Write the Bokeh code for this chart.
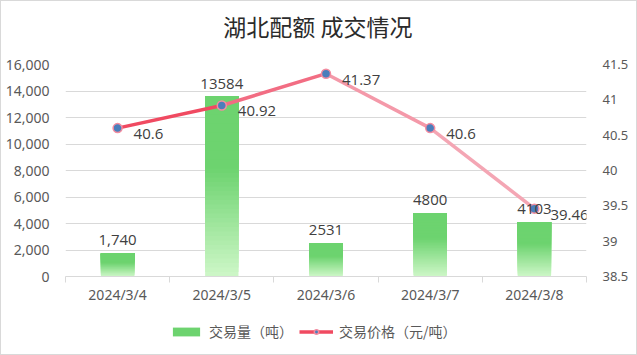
import numpy as np
from bokeh.plotting import figure
from bokeh.layouts import column
from bokeh.models import (Range1d, LinearAxis, FixedTicker, NumeralTickFormatter,
                          Legend, LegendItem, ColumnDataSource, Label)
from bokeh.core.properties import value
from bokeh.embed import file_html
from bokeh.resources import INLINE

# ---- data ----
dates = ["2024/3/4", "2024/3/5", "2024/3/6", "2024/3/7", "2024/3/8"]
volumes = [1740, 13584, 2531, 4800, 4103]
volume_labels = ["1,740", "13584", "2531", "4800", "4103"]
prices = [40.6, 40.92, 41.37, 40.6, 39.46]
price_labels = ["40.6", "40.92", "41.37", "40.6", "39.46"]
left_ticks = [0, 2000, 4000, 6000, 8000, 10000, 12000, 14000, 16000]
right_ticks = [38.5, 39, 39.5, 40, 40.5, 41, 41.5]
title_text = "湖北配额 成交情况"
legend_bar = "交易量（吨）"
legend_line = "交易价格（元/吨）"

xs = list(range(1, len(dates) + 1))
W = 635


def blank_fig(h):
    f = figure(width=W, height=h, x_range=Range1d(0, 1), y_range=Range1d(0, 1),
               output_backend="svg", toolbar_location=None, x_axis_type=None, y_axis_type=None,
               min_border_left=0, min_border_right=0, min_border_top=0, min_border_bottom=0)
    f.grid.grid_line_color = None
    f.outline_line_color = None
    f.background_fill_color = "white"
    f.border_fill_color = "white"
    return f


# ---- title strip ----
tf = blank_fig(50)
tf.add_layout(Label(x=0.4845, y=0.51, text=title_text, text_align="center", text_baseline="middle",
                    text_font="Noto Sans CJK SC", text_font_size="23px", text_color="#2b2b2b"))

# ---- main chart ----
p = figure(width=W, height=255, x_range=Range1d(0.5, len(dates) + 0.5),
           y_range=Range1d(left_ticks[0], left_ticks[-1]),
           output_backend="svg", toolbar_location=None,
           min_border_left=64, min_border_right=50, min_border_top=13, min_border_bottom=30)
p.extra_y_ranges = {"price": Range1d(right_ticks[0], right_ticks[-1])}
p.background_fill_color = "white"
p.border_fill_color = "white"
p.outline_line_color = None

p.xgrid.grid_line_color = None
p.ygrid.grid_line_color = "#d9d9d9"
p.ygrid.ticker = FixedTicker(ticks=left_ticks)

ax = p.xaxis[0]
ax.ticker = FixedTicker(ticks=xs, minor_ticks=[x - 0.5 for x in xs] + [xs[-1] + 0.5])
ax.major_label_overrides = {x: d for x, d in zip(xs, dates)}
ax.axis_line_color = "#d9d9d9"
ax.major_tick_line_color = None
ax.major_tick_out = 0
ax.major_tick_in = 0
ax.minor_tick_line_color = "#d9d9d9"
ax.minor_tick_out = 6
ax.minor_tick_in = 0
ax.major_label_standoff = 2
ax.major_label_text_font = "Noto Sans"
ax.major_label_text_font_size = "14px"
ax.major_label_text_color = "#595959"

ly = p.yaxis[0]
ly.ticker = FixedTicker(ticks=left_ticks)
ly.formatter = NumeralTickFormatter(format="0,0")
ly.axis_line_color = None
ly.major_tick_line_color = None
ly.minor_tick_line_color = None
ly.major_label_standoff = 10
ly.major_label_text_font = "Noto Sans"
ly.major_label_text_font_size = "14px"
ly.major_label_text_color = "#595959"

ry = LinearAxis(y_range_name="price", ticker=FixedTicker(ticks=right_ticks),
                formatter=NumeralTickFormatter(format="0[.]0"))
ry.axis_line_color = None
ry.major_tick_line_color = None
ry.minor_tick_line_color = None
ry.major_label_standoff = 10
ry.major_label_text_font = "Noto Sans"
ry.major_label_text_font_size = "13px"
ry.major_label_text_color = "#595959"
p.add_layout(ry, "right")

# bars with vertical gradient: nested slices, each from its start up to the bar top
green = np.array([109, 211, 111])
light = np.array([206, 247, 200])
n = 40
bx, bb, bt, bc = [], [], [], []
for x, v in zip(xs, volumes):
    for j in range(n):
        frac = (j + 0.5) / n
        t = min(1.0, frac / 0.6)
        c = light + (green - light) * t
        bx.append(x)
        bb.append(v * j / n)
        bt.append(v)
        bc.append("#%02x%02x%02x" % tuple(int(round(k)) for k in c))
p.vbar(x=bx, bottom=bb, top=bt, width=0.32, fill_color=bc, line_color=None)

# price line (segment colours red -> pink)
seg_colors = ["#f04a61", "#f26d83", "#f499a9", "#f4a6b4"]
seg_src = ColumnDataSource(dict(x0=xs[:-1], y0=prices[:-1], x1=xs[1:], y1=prices[1:], c=seg_colors))
p.segment(x0="x0", y0="y0", x1="x1", y1="y1", source=seg_src, line_color="c",
          line_width=3.5, y_range_name="price")
p.scatter(x=xs, y=prices, size=9, fill_color="#4a7ebb", line_color="#f28ca0",
          line_width=1.5, y_range_name="price")

# data labels
p.text(x=xs, y=volumes, text=volume_labels, text_align="center", text_baseline="alphabetic",
       y_offset=-13, text_font=value("Open Sans"), text_font_size="15px", text_color="#404040")
p.text(x=xs, y=prices, text=price_labels, text_align="left", text_baseline="alphabetic",
       x_offset=16, y_offset=6, text_font=value("Open Sans"), text_font_size="15px",
       text_color="#404040", y_range_name="price")

# ---- legend strip (legend glyph renderers sit outside the strip's visible range) ----
lf = blank_fig(48)
bar_leg = lf.vbar(x=[-5], bottom=[-5], top=[-4], width=0.3, fill_color="#6dd36f", line_color=None)
seg_leg = lf.line(x=[-5, -4], y=[-5, -5], line_color="#f04a61", line_width=3.5)
pts_leg = lf.scatter(x=[-5], y=[-5], size=9, fill_color="#4a7ebb", line_color="#f28ca0", line_width=1.5)
legend = Legend(items=[LegendItem(label=legend_bar, renderers=[bar_leg]),
                       LegendItem(label=legend_line, renderers=[seg_leg, pts_leg])],
                orientation="horizontal", location=(104, 13), margin=0,
                glyph_width=34, glyph_height=11, label_standoff=6, spacing=6, padding=0,
                border_line_color=None, background_fill_alpha=0,
                label_text_font="Noto Sans CJK SC", label_text_font_size="14px",
                label_text_color="#595959")
lf.add_layout(legend)

layout = column(tf, p, lf, spacing=0, styles={"border": "1px solid #d9d9d9"})

open("out.html", "w").write(file_html(layout, INLINE))
